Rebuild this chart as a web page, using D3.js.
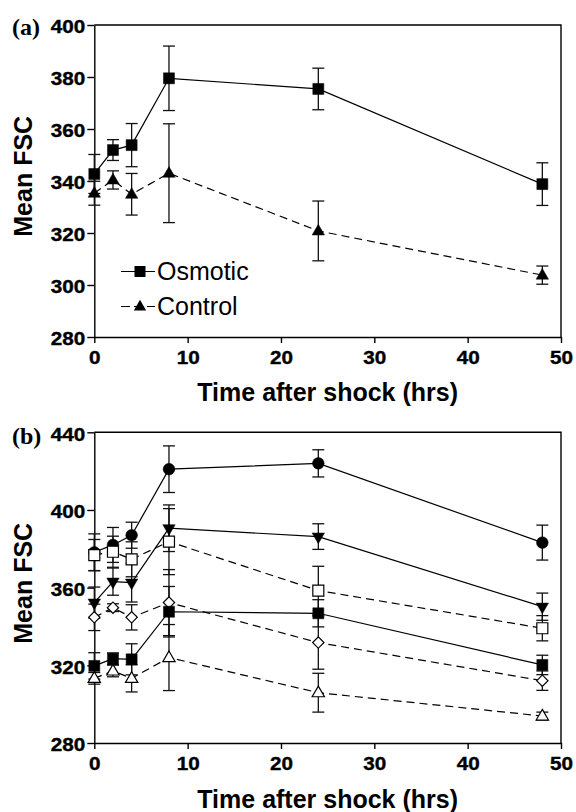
<!DOCTYPE html>
<html><head><meta charset="utf-8">
<script src="https://cdn.jsdelivr.net/npm/d3@7"></script>
<style>body{margin:0;background:#fff}svg{display:block}</style>
</head><body>
<script>
// ---------- data ----------
const times = [0, 2, 4, 8, 24, 48];
const xTicks = [0, 10, 20, 30, 40, 50];

// panel (a)
const osmoticMean = [342.7, 351.9, 353.8, 379.5, 375.4, 338.8];
const osmoticErr  = [7.5, 4, 8.3, 12.4, 8, 8.2];
const controlMean = [335.3, 340.4, 334.9, 343.0, 320.8, 303.8];
const controlErr  = [4.6, 3.5, 8, 19, 11.5, 3.5];
const yTicksA = [280, 300, 320, 340, 360, 380, 400];
const legendLabels = ["Osmotic", "Control"];

// panel (b)
const bCircleMean = [378.2, 382.0, 387.0, 421.0, 424.0, 383.2];
const bCircleErr  = [9.5, 9, 6.7, 12, 7, 9];
const bDownTriMean = [352.3, 363.1, 362.6, 390.6, 386.3, 350.2];
const bDownTriErr  = [8, 7, 10, 12, 6.6, 7];
const bOpenSqMean = [376.8, 378.5, 374.6, 383.7, 358.5, 339.1];
const bOpenSqErr  = [8, 8, 9, 17, 12.5, 6.5];
const bDiamondMean = [344.7, 349.7, 344.7, 352.3, 331.7, 312.1];
const bDiamondErr  = [6.8, 2, 6.5, 17, 13.7, 5];
const bFilledSqMean = [319.7, 323.4, 323.1, 347.6, 346.8, 320.2];
const bFilledSqErr  = [6.8, 3, 8, 13, 7, 5];
const bOpenTriMean = [313.3, 317.1, 313.3, 324.0, 305.9, 293.9];
const bOpenTriErr  = [3, 3, 7, 17, 10, 2];
const yTicksB = [280, 320, 360, 400, 440];

const xLabel = "Time after shock (hrs)";
const yLabel = "Mean FSC";

// ---------- drawing ----------
const W = 576, H = 812;
const svg = d3.select("body").append("svg").attr("width", W).attr("height", H)
  .style("font-family", "'Liberation Sans', Arial, sans-serif");

const x = d3.scaleLinear().domain([0, 50]).range([94.3, 561]);

function symPath(kind) {
  const sizes = {square: 121, triangle: 66, down: 66, circle: 107, diamond: 64};
  const types = {square: d3.symbolSquare, triangle: d3.symbolTriangle, down: d3.symbolTriangle,
                 circle: d3.symbolCircle, diamond: d3.symbolSquare};
  return d3.symbol().type(types[kind]).size(sizes[kind])();
}
function symTransform(kind, cx, cy) {
  let t = `translate(${cx},${cy})`;
  if (kind === "down") t += " rotate(180)";
  if (kind === "triangle") t += " translate(0,0.5)";
  if (kind === "diamond") t += " rotate(45)";
  return t;
}

function drawPanel(cfg) {
  const y = d3.scaleLinear().domain(cfg.domain).range(cfg.range);
  const g = svg.append("g");
  const [x0, x1] = x.range();
  const [yb, yt] = cfg.range;

  // box (top/right)
  g.append("path").attr("d", `M${x0},${yt}H${x1}V${yb}`).attr("fill", "none")
    .attr("stroke", "#000").attr("stroke-width", 1.4);

  const ax = g.append("g").attr("transform", `translate(0,${yb})`)
    .call(d3.axisBottom(x).tickValues(xTicks).tickSize(6).tickSizeOuter(0).tickPadding(9));
  const ay = g.append("g").attr("transform", `translate(${x0},0)`)
    .call(d3.axisLeft(y).tickValues(cfg.ticks).tickSize(7).tickSizeOuter(0).tickPadding(2));
  [ax, ay].forEach(a => {
    a.selectAll("path,line").attr("stroke", "#000").attr("stroke-width", 1.4);
    a.selectAll("text").attr("fill", "#000").attr("stroke", "#000").attr("stroke-width", 0.35)
      .style("font-size", "17.5px").style("font-weight", "bold")
      .style("font-family", "'Liberation Sans', Arial, sans-serif")
      .attr("textLength", d => String(d).length * 11.5).attr("lengthAdjust", "spacingAndGlyphs");
  });
  ay.selectAll("text").attr("dy", "0.45em");

  // titles
  g.append("text").attr("x", (x0 + x1) / 2).attr("y", cfg.xTitleY).attr("text-anchor", "middle")
    .style("font-size", "25px").style("font-weight", "bold").text(xLabel);
  g.append("text").attr("transform", `translate(32.3,${cfg.yTitleY}) rotate(-90)`)
    .attr("text-anchor", "middle").style("font-size", "25px").style("font-weight", "bold").text(yLabel);
  g.append("text").attr("x", 12).attr("y", cfg.tagY)
    .style("font-family", "'Liberation Serif', 'Times New Roman', serif")
    .style("font-size", "24px").style("font-weight", "bold").text(cfg.tag);

  const line = d3.line().x((d, i) => x(times[i])).y(d => y(d));
  cfg.series.forEach(s => {
    g.append("path").attr("d", line(s.mean)).attr("fill", "none").attr("stroke", "#000")
      .attr("stroke-width", 1.2).attr("stroke-dasharray", s.dashed ? "8,5" : null);
  });
  cfg.series.forEach(s => {
    const eb = g.append("g").attr("stroke", "#111").attr("stroke-width", 1.3);
    s.mean.forEach((m, i) => {
      const cx = x(times[i]), hi = y(m + s.err[i]), lo = y(m - s.err[i]);
      eb.append("line").attr("x1", cx).attr("x2", cx).attr("y1", hi).attr("y2", lo);
      eb.append("line").attr("x1", cx - 6).attr("x2", cx + 6).attr("y1", hi).attr("y2", hi);
      eb.append("line").attr("x1", cx - 6).attr("x2", cx + 6).attr("y1", lo).attr("y2", lo);
    });
  });
  cfg.series.forEach(s => {
    s.mean.forEach((m, i) => {
      g.append("path").attr("d", symPath(s.kind))
        .attr("transform", symTransform(s.kind, x(times[i]), y(m)))
        .attr("fill", s.open ? "#fff" : "#000").attr("stroke", "#000").attr("stroke-width", s.open ? 1.2 : 0.5);
    });
  });
  return g;
}

const ga = drawPanel({
  domain: [280, 400], range: [337, 25], ticks: yTicksA, xTitleY: 401, yTitleY: 176.3,
  tag: "(a)", tagY: 34.5,
  series: [
    {mean: osmoticMean, err: osmoticErr, kind: "square", open: false, dashed: false},
    {mean: controlMean, err: controlErr, kind: "triangle", open: false, dashed: true}
  ]
});

// legend (a)
[{kind: "square", dashed: false, y: 271.5}, {kind: "triangle", dashed: true, y: 306.5}].forEach((l, i) => {
  ga.append("line").attr("x1", 121).attr("x2", 155).attr("y1", l.y).attr("y2", l.y)
    .attr("stroke", "#000").attr("stroke-width", 1.2).attr("stroke-dasharray", l.dashed ? "9,4" : null);
  ga.append("path").attr("d", symPath(l.kind)).attr("transform", symTransform(l.kind, 140, l.y))
    .attr("fill", "#000");
  ga.append("text").attr("x", 157).attr("y", l.y + 8.5).style("font-size", "25px").text(legendLabels[i]);
});

drawPanel({
  domain: [280, 440], range: [743, 432.3], ticks: yTicksB, xTitleY: 808, yTitleY: 583.3,
  tag: "(b)", tagY: 444,
  series: [
    {mean: bCircleMean, err: bCircleErr, kind: "circle", open: false, dashed: false},
    {mean: bDownTriMean, err: bDownTriErr, kind: "down", open: false, dashed: false},
    {mean: bOpenSqMean, err: bOpenSqErr, kind: "square", open: true, dashed: true},
    {mean: bDiamondMean, err: bDiamondErr, kind: "diamond", open: true, dashed: true},
    {mean: bFilledSqMean, err: bFilledSqErr, kind: "square", open: false, dashed: false},
    {mean: bOpenTriMean, err: bOpenTriErr, kind: "triangle", open: true, dashed: true}
  ]
});
</script></body></html>
